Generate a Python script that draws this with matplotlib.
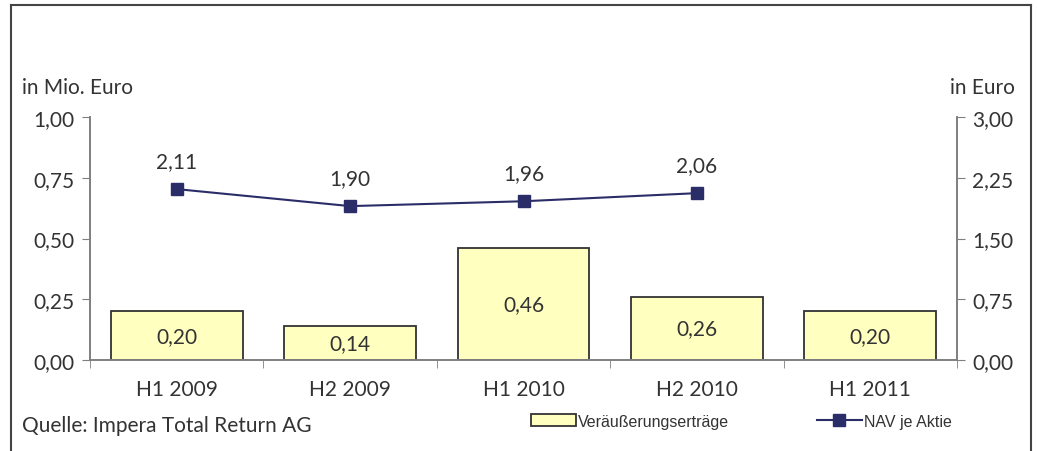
import matplotlib
matplotlib.use('Agg')
import matplotlib.pyplot as plt
from matplotlib.lines import Line2D
from matplotlib.patches import Patch
import numpy as np

plt.rcParams['font.family'] = ['Lato', 'DejaVu Sans']

# data
labels = ['H1 2009', 'H2 2009', 'H1 2010', 'H2 2010', 'H1 2011']
ertraege = [0.20, 0.14, 0.46, 0.26, 0.20]
nav = [2.11, 1.90, 1.96, 2.06]
left_ticks = [0.00, 0.25, 0.50, 0.75, 1.00]
right_ticks = [0.00, 0.75, 1.50, 2.25, 3.00]

txt = '#333333'
axc = '#7f7f7f'
fs = 15

def de(v):
    return f'{v:.2f}'.replace('.', ',')

fig = plt.figure(figsize=(10.37, 4.52), dpi=100)
ax = fig.add_axes([0.0868, 0.2013, 0.8361, 0.5376])
ax2 = ax.twinx()

x = np.arange(len(labels))
ax.bar(x, ertraege, 0.76, color='#FFFFC0', edgecolor='#333333', linewidth=1.3, zorder=2)
for xi, v in zip(x, ertraege):
    ax.text(xi, v / 2, de(v), ha='center', va='center', fontsize=fs, color=txt, zorder=3)

ax2.plot(x[:len(nav)], nav, color='#2B2D69', linewidth=1.5, marker='s', markersize=8.5, zorder=3)
for xi, v in zip(x, nav):
    ax2.annotate(de(v), (xi, v), xytext=(0, 20), textcoords='offset points',
                 ha='center', va='center', fontsize=fs, color=txt)

ax.set_xlim(-0.5, 4.5)
ax.set_ylim(0, 1)
ax2.set_ylim(0, 3)
ax.set_yticks(left_ticks)
ax.set_yticklabels([de(v) for v in left_ticks])
ax2.set_yticks(right_ticks)
ax2.set_yticklabels([de(v) for v in right_ticks])

ax.set_xticks(x)
ax.set_xticklabels(labels)
ax.set_xticks(np.arange(-0.5, 4.6, 1), minor=True)
ax.tick_params(axis='x', which='major', length=0, pad=14, labelsize=fs, labelcolor=txt)
ax.tick_params(axis='x', which='minor', length=6, color=axc, direction='out')
ax.tick_params(axis='y', length=6, color=axc, labelsize=fs, labelcolor=txt, pad=5)
ax2.tick_params(axis='y', length=6, color=axc, labelsize=fs, labelcolor=txt, pad=5)

for a in (ax, ax2):
    a.spines['top'].set_visible(False)
    for s in ('left', 'right', 'bottom'):
        a.spines[s].set_color(axc)
        a.spines[s].set_linewidth(1.2)

fig.text(0.021, 0.805, 'in Mio. Euro', fontsize=fs, color=txt, va='center')
fig.text(0.979, 0.805, 'in Euro', fontsize=fs, color=txt, va='center', ha='right')
fig.text(0.021, 0.058, 'Quelle: Impera Total Return AG', fontsize=fs, color=txt, va='center')

handles = [Patch(facecolor='#FFFFC0', edgecolor='#333333', linewidth=1.3, label='Veräußerungserträge'),
           Line2D([], [], color='#2B2D69', linewidth=1.5, marker='s', markersize=8.5, label='NAV je Aktie')]
fig.legend(handles=handles, loc='center', bbox_to_anchor=(0.715, 0.066), ncol=2, frameon=False,
           prop={'family': 'Liberation Sans', 'size': 11.5}, handlelength=2.8, handleheight=0.7,
           handletextpad=0.15, columnspacing=5.5, labelcolor=txt)

# outer frame
fig.add_artist(Line2D([0.0106, 0.0106], [0, 0.986], transform=fig.transFigure, color='#444444', lw=1.5))
fig.add_artist(Line2D([0.0106, 0.9945], [0.986, 0.986], transform=fig.transFigure, color='#444444', lw=1.5))
fig.add_artist(Line2D([0.9945, 0.9945], [0, 0.986], transform=fig.transFigure, color='#444444', lw=1.5))

fig.savefig('out.png', dpi=100)
